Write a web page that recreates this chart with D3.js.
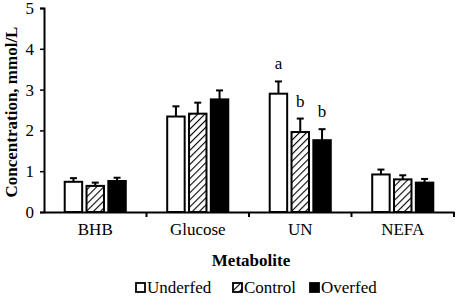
<!DOCTYPE html>
<html>
<head>
<script src="https://d3js.org/d3.v7.min.js"></script>
<style>
  body { margin: 0; background: #fff; }
</style>
</head>
<body>
<div id="chart"></div>
<script>
const metabolites = ["BHB", "Glucose", "UN", "NEFA"];
const groups = ["Underfed", "Control", "Overfed"];
const underfed = [0.74, 2.34, 2.90, 0.92];
const control  = [0.64, 2.41, 1.96, 0.80];
const overfed  = [0.76, 2.76, 1.76, 0.72];
const underfedErr = [0.09, 0.25, 0.30, 0.12];
const controlErr  = [0.08, 0.27, 0.33, 0.10];
const overfedErr  = [0.08, 0.22, 0.27, 0.09];
const letters = [["", "", ""], ["", "", ""], ["a", "b", "b"], ["", "", ""]];
const yTicks = [0, 1, 2, 3, 4, 5];

const width = 457, height = 296;
const margin = {left: 44, right: 3, top: 8, bottom: 84};
const serif = '"Liberation Serif"';

const svg = d3.select("#chart").append("svg")
    .attr("width", width).attr("height", height);

// hatch for Control
const defs = svg.append("defs");
const pat = defs.append("pattern")
    .attr("id", "hatch")
    .attr("patternUnits", "userSpaceOnUse")
    .attr("width", 5).attr("height", 5)
    .attr("patternTransform", "rotate(45)");
pat.append("rect").attr("width", 5).attr("height", 5).attr("fill", "#fff");
pat.append("line").attr("x1", 0).attr("y1", 0).attr("x2", 0).attr("y2", 5)
    .attr("stroke", "#000").attr("stroke-width", 2.2);

const fills = ["#fff", "url(#hatch)", "#000"];
const series = [underfed, control, overfed];
const errs = [underfedErr, controlErr, overfedErr];

const x = d3.scaleBand()
    .domain(metabolites)
    .range([margin.left, width - margin.right])
    .paddingInner(0).paddingOuter(0);

const x1 = d3.scaleBand()
    .domain(groups)
    .range([0, x.bandwidth()])
    .paddingInner(0.2).paddingOuter(0.95);

const y = d3.scaleLinear()
    .domain([0, 5])
    .range([height - margin.bottom, margin.top]);

const data = [];
metabolites.forEach((m, i) => {
  groups.forEach((g, j) => {
    data.push({m: m, g: g, v: series[j][i], e: errs[j][i], fill: fills[j], lab: letters[i][j]});
  });
});

const bars = svg.append("g").selectAll("g.bar").data(data).join("g").attr("class", "bar");
const cx = d => x(d.m) + x1(d.g) + x1.bandwidth() / 2;

bars.append("line")
    .attr("x1", cx).attr("x2", cx)
    .attr("y1", d => y(d.v))
    .attr("y2", d => y(d.v + d.e))
    .attr("stroke", "#000").attr("stroke-width", 2);
bars.append("line")
    .attr("x1", d => cx(d) - 3.5)
    .attr("x2", d => cx(d) + 3.5)
    .attr("y1", d => y(d.v + d.e))
    .attr("y2", d => y(d.v + d.e))
    .attr("stroke", "#000").attr("stroke-width", 2);

bars.append("rect")
    .attr("x", d => x(d.m) + x1(d.g))
    .attr("y", d => y(d.v))
    .attr("width", x1.bandwidth())
    .attr("height", d => y(0) - y(d.v))
    .attr("fill", d => d.fill)
    .attr("stroke", "#000").attr("stroke-width", 2);

// significance letters
bars.append("text")
    .attr("x", cx)
    .attr("y", d => y(d.v + d.e) - 12)
    .attr("text-anchor", "middle")
    .attr("font-family", serif)
    .attr("font-size", 17)
    .text(d => d.lab);

// y axis
const yAxis = svg.append("g")
    .attr("transform", `translate(${margin.left},0)`)
    .call(d3.axisLeft(y).tickValues(yTicks).tickFormat(d3.format("d")).tickSize(4).tickPadding(6));
yAxis.attr("font-family", serif);
yAxis.select(".domain").attr("stroke-width", 2);
yAxis.selectAll(".tick line").attr("stroke-width", 1.5);
yAxis.selectAll("text").attr("font-family", serif).attr("font-size", 17).attr("fill", "#000");

// x axis
const xAxis = svg.append("g")
    .attr("transform", `translate(0,${y(0)})`)
    .call(d3.axisBottom(x).tickSize(0).tickPadding(11));
xAxis.attr("font-family", serif);
xAxis.select(".domain").attr("stroke-width", 2);
xAxis.selectAll("text").attr("font-family", serif).attr("font-size", 17).attr("fill", "#000");
// boundary ticks between categories
svg.append("g").selectAll("line")
    .data(metabolites)
    .join("line")
    .attr("x1", d => x(d) + x.bandwidth())
    .attr("x2", d => x(d) + x.bandwidth())
    .attr("y1", y(0)).attr("y2", y(0) + 5)
    .attr("stroke", "#000").attr("stroke-width", 2);

// axis titles
svg.append("text")
    .attr("transform", `translate(17,${(y(0) + y(5)) / 2 + 2}) rotate(-90)`)
    .attr("text-anchor", "middle")
    .attr("font-family", serif)
    .attr("font-size", 17).attr("font-weight", "bold")
    .text("Concentration, mmol/L");

svg.append("text")
    .attr("x", (margin.left + width - margin.right) / 2 + 2)
    .attr("y", 266)
    .attr("text-anchor", "middle")
    .attr("font-family", serif)
    .attr("font-size", 17).attr("font-weight", "bold")
    .text("Metabolite");

// legend
const legendX = [136, 233, 310];
const leg = svg.append("g").selectAll("g").data(groups).join("g")
    .attr("transform", (d, i) => `translate(${legendX[i]},283)`);
leg.append("rect")
    .attr("width", 9).attr("height", 9)
    .attr("fill", (d, i) => fills[i])
    .attr("stroke", "#000").attr("stroke-width", 1.8);
leg.append("text")
    .attr("x", 11).attr("y", 9.5)
    .attr("font-family", serif)
    .attr("font-size", 17)
    .text(d => d);
</script>
</body>
</html>
